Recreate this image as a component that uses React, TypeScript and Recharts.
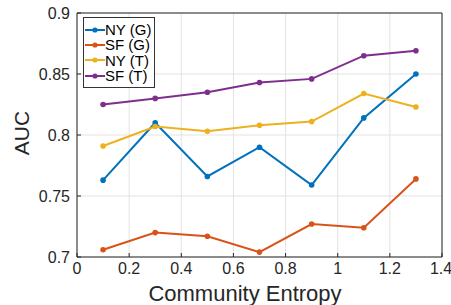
import {
  LineChart,
  Line,
  XAxis,
  YAxis,
  CartesianGrid,
  Label,
} from "recharts";

const entropy = [0.1, 0.3, 0.5, 0.7, 0.9, 1.1, 1.3];
const nyG = [0.763, 0.81, 0.766, 0.79, 0.759, 0.814, 0.85];
const sfG = [0.706, 0.72, 0.717, 0.704, 0.727, 0.724, 0.764];
const nyT = [0.791, 0.807, 0.803, 0.808, 0.811, 0.834, 0.823];
const sfT = [0.825, 0.83, 0.835, 0.843, 0.846, 0.865, 0.869];

const xTicks = [0, 0.2, 0.4, 0.6, 0.8, 1, 1.2, 1.4];
const yTicks = [0.7, 0.75, 0.8, 0.85, 0.9];

const series = [
  { key: "nyG", name: "NY (G)", color: "#0072BD" },
  { key: "sfG", name: "SF (G)", color: "#D95319" },
  { key: "nyT", name: "NY (T)", color: "#EDB120" },
  { key: "sfT", name: "SF (T)", color: "#7E2F8E" },
];

const data = entropy.map((x, i) => ({
  x,
  nyG: nyG[i],
  sfG: sfG[i],
  nyT: nyT[i],
  sfT: sfT[i],
}));

const font = "'Liberation Sans', Arial, sans-serif";
const axisColor = "#262626";

function LegendBox() {
  return (
    <div
      style={{
        position: "absolute",
        left: 83,
        top: 17,
        background: "#fff",
        border: "1px solid #333",
        padding: "4px 3px 4px 1px",
        fontFamily: font,
        fontSize: 15,
        color: "#000",
        lineHeight: "15.3px",
      }}
    >
      {series.map((s) => (
        <div key={s.key} style={{ display: "flex", alignItems: "center" }}>
          <svg width={20} height={10}>
            <line x1={0} y1={5} x2={20} y2={5} stroke={s.color} strokeWidth={2} />
            <circle cx={10} cy={5} r={2.6} fill={s.color} />
          </svg>
          <span>{s.name}</span>
        </div>
      ))}
    </div>
  );
}

function App() {
  return (
    <div style={{ position: "fixed", left: 0, top: 0, width: 451, height: 305, background: "#fff" }}>
      <LineChart
        width={451}
        height={305}
        data={data}
        margin={{ top: 12, right: 8, left: 0, bottom: 0 }}
      >
        <CartesianGrid stroke="#e3e3e3" strokeWidth={1} />
        <XAxis
          dataKey="x"
          type="number"
          domain={[0, 1.4]}
          ticks={xTicks}
          height={48}
          stroke={axisColor}
          tickSize={-4}
          tickMargin={10}
          tick={{ fill: axisColor, fontSize: 16, fontFamily: font }}
        >
          <Label
            content={() => (
              <text
                x={245}
                y={301}
                textAnchor="middle"
                fontSize={22}
                fontFamily={font}
                fill={axisColor}
              >
                Community Entropy
              </text>
            )}
          />
        </XAxis>
        <XAxis
          xAxisId="top"
          orientation="top"
          dataKey="x"
          type="number"
          domain={[0, 1.4]}
          ticks={xTicks}
          height={1}
          stroke={axisColor}
          tickSize={-4}
          tick={false}
        />
        <YAxis
          type="number"
          domain={[0.7, 0.9]}
          ticks={yTicks}
          width={77}
          stroke={axisColor}
          tickSize={-4}
          tickMargin={11}
          tick={{ fill: axisColor, fontSize: 16, fontFamily: font }}
        >
          <Label
            content={() => (
              <text
                x={28.5}
                y={133}
                textAnchor="middle"
                fontSize={21}
                fontFamily={font}
                fill={axisColor}
                transform="rotate(-90 28.5 133)"
              >
                AUC
              </text>
            )}
          />
        </YAxis>
        <YAxis
          yAxisId="right"
          orientation="right"
          type="number"
          domain={[0.7, 0.9]}
          ticks={yTicks}
          width={1}
          stroke={axisColor}
          tickSize={-4}
          tick={false}
        />
        {series.map((s) => (
          <Line
            key={s.key}
            dataKey={s.key}
            name={s.name}
            stroke={s.color}
            strokeWidth={2}
            dot={{ r: 2.8, fill: s.color, stroke: s.color, strokeWidth: 0 }}
            activeDot={false}
            isAnimationActive={false}
          />
        ))}
      </LineChart>
      <LegendBox />
    </div>
  );
}

export default App;
